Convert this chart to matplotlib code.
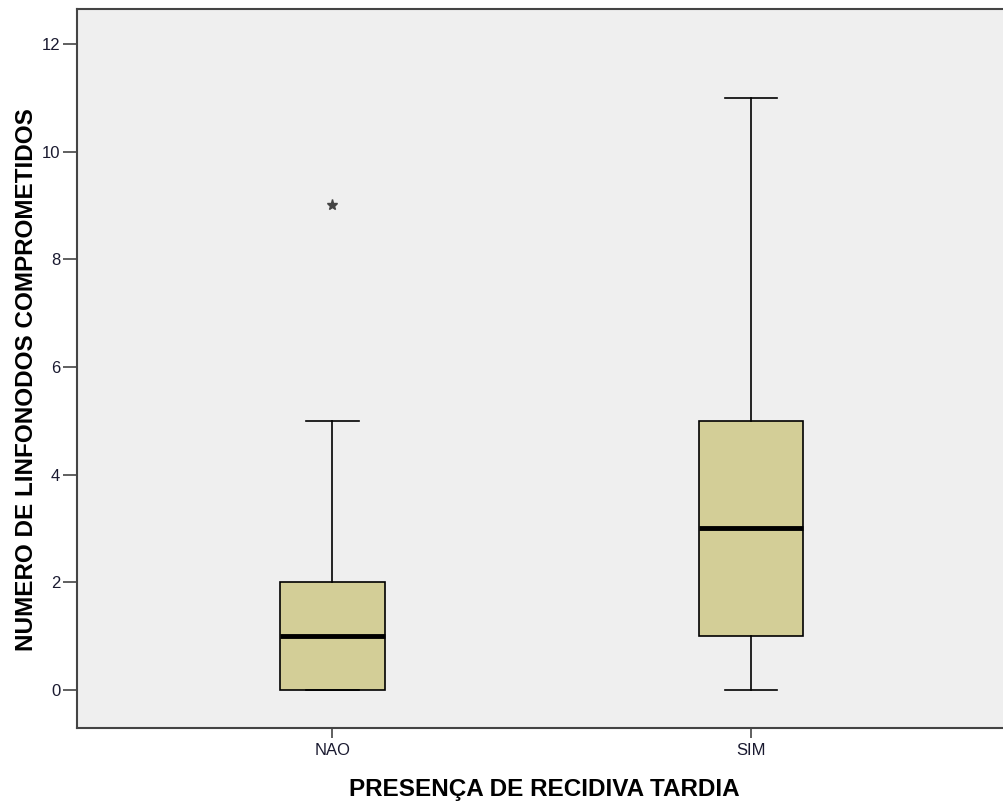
import matplotlib.pyplot as plt

plt.rcParams['font.family'] = ['Liberation Sans', 'DejaVu Sans']

# Summary values
groups = ['NAO', 'SIM']
q1 = [0, 1]
medians = [1, 3]
q3 = [2, 5]
whisker_low = [0, 0]
whisker_high = [5, 11]
outliers = [[9], []]

stats = []
for i, g in enumerate(groups):
    stats.append(dict(label=g, q1=q1[i], med=medians[i], q3=q3[i],
                      whislo=whisker_low[i], whishi=whisker_high[i], fliers=outliers[i]))

fig = plt.figure(figsize=(10.04, 8.08), dpi=100)
ax = fig.add_axes([0.0767, 0.099, 0.93, 0.89])
ax.set_facecolor('#EFEFEF')

ax.bxp(stats, positions=[1, 2], widths=0.25, patch_artist=True,
       boxprops=dict(facecolor='#D3CE97', edgecolor='black', linewidth=1.2),
       medianprops=dict(color='black', linewidth=3.5),
       whiskerprops=dict(color='black', linewidth=1.2),
       capprops=dict(color='black', linewidth=1.2),
       flierprops=dict(marker='*', markersize=8, markerfacecolor='#444444',
                       markeredgecolor='#444444', linestyle='none'))

ax.set_xlim(0.39, 2.62)
ax.set_ylim(-0.706, 12.65)
ax.set_yticks([0, 2, 4, 6, 8, 10, 12])

for side in ['left', 'bottom', 'top']:
    ax.spines[side].set_color('#444444')
    ax.spines[side].set_linewidth(1.5)
ax.spines['right'].set_visible(False)

ax.tick_params(axis='both', colors='#444444', labelcolor='#1a1a30', labelsize=12, width=1.2)
ax.tick_params(axis='y', length=10, pad=2)
ax.tick_params(axis='x', length=7, pad=4)

ax.set_xlabel('PRESENÇA DE RECIDIVA TARDIA', fontsize=17.5, fontweight='bold', labelpad=14)
ax.set_ylabel('NUMERO DE LINFONODOS COMPROMETIDOS', fontsize=17.5, fontweight='bold',
              labelpad=3, y=0.485)

fig.savefig('out.png', dpi=100)
